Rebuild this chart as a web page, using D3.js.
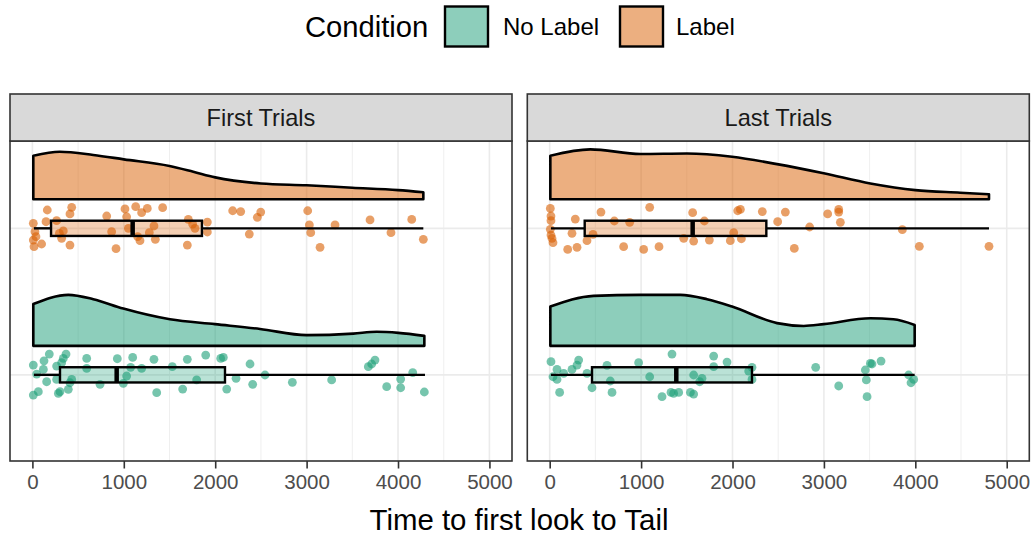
<!DOCTYPE html>
<html>
<head>
<meta charset="utf-8">
<script src="https://cdn.jsdelivr.net/npm/d3@7"></script>
<style>
  html, body { margin: 0; padding: 0; background: #fff; }
  svg { display: block; font-family: "Liberation Sans", Arial, Helvetica, sans-serif; }
</style>
</head>
<body>
<svg id="chart" width="1035" height="536"></svg>
<script>
// ---- data ----------------------------------------------------------------
const facets = ["First Trials", "Last Trials"];
const conditions = ["No Label", "Label"];
const conditionColors = ["#1B9E77", "#D95F02"];
const xTicks = [0, 1000, 2000, 3000, 4000, 5000];
const xMinorTicks = [500, 1500, 2500, 3500, 4500];

// Observations: [time (ms), vertical jitter]
const firstLabel = [
  [163,0.125],[430,0.143],[411,0.098],[149,0.045],[10,0.034],[28,-0.023],[10,-0.080],[18,-0.125],
  [101,-0.107],[39,-0.057],[265,0.052],[338,-0.018],[320,-0.068],[295,-0.034],[411,-0.114],
  [813,0.084],[867,-0.023],[915,-0.139],[1013,0.132],[1031,0.079],[1130,0.148],[1195,0.107],
  [1257,0.136],[1425,0.141],[1050,0],[1152,-0.057],[1177,-0.084],[1330,0.016],[1279,-0.030],
  [1345,-0.075],[1706,0.061],[1753,0.029],[1779,0],[1914,0.043],[1914,-0.025],[1695,-0.114],
  [2191,0.120],[2279,0.114],[2498,0.111],[2461,0.075],[2373,-0.039],[3012,0.120],[3030,0.023],
  [3045,-0.030],[3147,-0.130],[3311,0.023],[3694,0.057],[3923,-0.030],[4150,0.061],[4277,-0.075]
];
const firstNoLabel = [
  [185,0.142],[127,0.096],[10,0.067],[120,0.037],[47,0.005],[156,-0.047],[265,-0.031],[65,-0.115],
  [10,-0.138],[284,-0.127],[302,-0.115],[393,-0.099],[368,0.142],[338,0.112],[265,0.060],[320,0.083],
  [430,-0.031],[411,-0.054],[594,0.112],[594,0.044],[740,-0.065],[929,0.110],[1097,0.119],[1075,0.051],
  [1195,0.044],[1031,-0.008],[995,-0.058],[1330,0.106],[1360,-0.122],[1531,0.056],[1644,-0.097],
  [1695,0.106],[1797,-0.035],[1896,0.135],[2060,0.112],[2089,0.119],[2126,-0.097],[2228,-0.024],
  [2381,0.074],[2410,-0.065],[2545,-0.001],[2844,-0.051],[3274,-0.035],[3675,0.056],[3712,0.074],
  [3748,0.101],[3876,-0.081],[4029,-0.029],[4029,-0.088],[4161,0.015],[4288,-0.117]
];
const lastLabel = [
  [7,0.136],[14,0.084],[14,0.052],[7,-0.007],[14,-0.046],[25,-0.068],[36,-0.098],[280,0.063],
  [244,-0.034],[197,-0.144],[299,-0.130],[408,-0.084],[474,-0.041],[561,0.111],[707,0.050],
  [875,0.041],[809,-0.125],[1028,-0.144],[1196,-0.125],[1094,0.143],[1466,-0.068],[1564,0.107],
  [1575,-0.087],[1692,0.050],[1747,-0.080],[1976,-0.084],[2013,-0.030],[2097,-0.071],[2057,0.120],
  [2086,0.129],[2326,0.114],[2578,0.111],[2494,0.045],[2676,-0.137],[2844,0.009],[3041,0.098],
  [3162,0.129],[3162,0.111],[3180,0.041],[3858,-0.009],[4044,-0.123],[4806,-0.123]
];
const lastNoLabel = [
  [14,0.090],[80,0.037],[36,-0.013],[80,-0.031],[153,0.010],[109,-0.120],[244,0.037],[317,0.101],
  [299,0.067],[408,0.010],[463,-0.088],[627,0.065],[663,-0.042],[682,-0.120],[973,0.083],
  [1094,-0.013],[1229,-0.149],[1338,0.142],[1327,-0.120],[1411,-0.120],[1356,-0.127],[1575,-0.001],
  [1539,-0.120],[1575,-0.131],[1666,-0.024],[1641,-0.047],[1794,0.128],[1794,0.056],[1940,0.087],
  [2177,0.026],[2213,0.051],[2213,-0.031],[2910,0.051],[3162,-0.076],[3453,0.033],[3508,0.078],
  [3526,0.074],[3625,0.094],[3464,-0.035],[3472,-0.149],[3927,-0.001],[3982,-0.031],[3953,-0.054]
];

// Half-violin outlines: [time (ms), relative density]
const firstLabelDensity = [
  [10,0.855],[300,0.933],[666,0.87],[1000,0.784],[1500,0.653],[1760,0.54],[2000,0.43],
  [2500,0.31],[3000,0.275],[3500,0.227],[4000,0.18],[4277,0.137]
];
const firstNoLabelDensity = [
  [10,0.82],[393,1.0],[666,0.915],[995,0.73],[1505,0.52],[1997,0.425],[2490,0.33],
  [3000,0.21],[3511,0.24],[3766,0.275],[4003,0.255],[4288,0.196]
];
const lastLabelDensity = [
  [7,0.855],[444,0.98],[991,0.89],[1502,0.9],[1995,0.835],[2487,0.69],[2998,0.51],
  [3508,0.31],[4000,0.18],[4492,0.13],[4806,0.1]
];
const lastNoLabelDensity = [
  [7,0.77],[481,0.98],[991,1.0],[1429,1.0],[1721,0.915],[1995,0.77],[2487,0.445],
  [2779,0.39],[2998,0.425],[3508,0.54],[3760,0.52],[3993,0.41]
];

// Box summaries: [lower whisker, Q1, median, Q3, upper whisker]
const firstLabelBox   = [17, 204, 1097, 1855, 4277];
const firstNoLabelBox = [17, 302, 922, 2107, 4295];
const lastLabelBox    = [14, 383, 1564, 2370, 4806];
const lastNoLabelBox  = [14, 463, 1385, 2213, 3993];

const panelData = [
  { facet: facets[0], groups: [
    { cond: 0, pts: firstNoLabel, dens: firstNoLabelDensity, box: firstNoLabelBox },
    { cond: 1, pts: firstLabel,   dens: firstLabelDensity,   box: firstLabelBox } ] },
  { facet: facets[1], groups: [
    { cond: 0, pts: lastNoLabel, dens: lastNoLabelDensity, box: lastNoLabelBox },
    { cond: 1, pts: lastLabel,   dens: lastLabelDensity,   box: lastLabelBox } ] }
];

// ---- layout --------------------------------------------------------------
const svg = d3.select("#chart");
const panelLeft = 10, panelW = 502, panelGap = 15.3;
const stripTop = 94, panelTop = 141, panelBottom = 461;

const fillAlpha = (c, a) => { const k = d3.color(c); k.opacity = a; return k + ""; };

const yScale = d3.scaleLinear().domain([0.412, 2.596]).range([panelBottom, panelTop]);
const violinOffset = 0.198;   // baseline of half violin above the category
const violinHeight = 0.348;   // height of the tallest density
const boxHalf = 0.052;
const grid = "#EBEBEB", frame = "#333333";

panelData.forEach((pd, pi) => {
  const x0 = panelLeft + pi * (panelW + panelGap);
  const x = d3.scaleLinear().domain([-245, 5247]).range([x0, x0 + panelW]);
  const g = svg.append("g");

  // panel background and grid
  g.append("rect").attr("x", x0).attr("y", panelTop).attr("width", panelW)
    .attr("height", panelBottom - panelTop).attr("fill", "#fff");
  g.selectAll(".minor").data(xMinorTicks).join("line")
    .attr("x1", d => x(d)).attr("x2", d => x(d))
    .attr("y1", panelTop).attr("y2", panelBottom)
    .attr("stroke", grid).attr("stroke-width", 0.8);
  g.selectAll(".major").data(xTicks).join("line")
    .attr("x1", d => x(d)).attr("x2", d => x(d))
    .attr("y1", panelTop).attr("y2", panelBottom)
    .attr("stroke", grid).attr("stroke-width", 1.6);
  g.selectAll(".hgrid").data([1, 2]).join("line")
    .attr("x1", x0).attr("x2", x0 + panelW)
    .attr("y1", d => yScale(d)).attr("y2", d => yScale(d))
    .attr("stroke", grid).attr("stroke-width", 1.6);

  pd.groups.forEach(gr => {
    const pos = gr.cond + 1;
    const col = conditionColors[gr.cond];

    // half violin
    const base = yScale(pos + violinOffset);
    const area = d3.area()
      .x(d => x(d[0]))
      .y0(base)
      .y1(d => yScale(pos + violinOffset + d[1] * violinHeight))
      .curve(d3.curveMonotoneX);
    g.append("path").datum(gr.dens).attr("d", area)
      .attr("fill", fillAlpha(col, 0.5)).attr("stroke", "#000")
      .attr("stroke-width", 2.6).attr("stroke-linejoin", "round");

    // jittered observations
    g.append("g").selectAll("circle").data(gr.pts).join("circle")
      .attr("cx", d => x(d[0])).attr("cy", d => yScale(pos + d[1]))
      .attr("r", 4.4).attr("fill", col).attr("fill-opacity", 0.6);

    // box and whiskers
    const b = gr.box, yc = yScale(pos);
    g.append("line").attr("x1", x(b[0])).attr("x2", x(b[1])).attr("y1", yc).attr("y2", yc)
      .attr("stroke", "#000").attr("stroke-width", 2.4);
    g.append("line").attr("x1", x(b[3])).attr("x2", x(b[4])).attr("y1", yc).attr("y2", yc)
      .attr("stroke", "#000").attr("stroke-width", 2.4);
    g.append("rect").attr("x", x(b[1])).attr("y", yScale(pos + boxHalf))
      .attr("width", x(b[3]) - x(b[1])).attr("height", yScale(pos - boxHalf) - yScale(pos + boxHalf))
      .attr("fill", fillAlpha(col, 0.3)).attr("stroke", "#000").attr("stroke-width", 2.4);
    g.append("line").attr("x1", x(b[2])).attr("x2", x(b[2]))
      .attr("y1", yScale(pos + boxHalf)).attr("y2", yScale(pos - boxHalf))
      .attr("stroke", "#000").attr("stroke-width", 4.5);
  });

  // panel frame
  g.append("rect").attr("x", x0).attr("y", panelTop).attr("width", panelW)
    .attr("height", panelBottom - panelTop).attr("fill", "none")
    .attr("stroke", frame).attr("stroke-width", 1.6);

  // strip
  g.append("rect").attr("x", x0).attr("y", stripTop).attr("width", panelW)
    .attr("height", panelTop - stripTop).attr("fill", "#D9D9D9")
    .attr("stroke", frame).attr("stroke-width", 1.6);
  g.append("text").attr("x", x0 + panelW / 2).attr("y", 126)
    .attr("text-anchor", "middle").attr("font-size", 23.6).attr("fill", "#1A1A1A")
    .text(pd.facet);

  // x axis
  const axis = d3.axisBottom(x).tickValues(xTicks).tickSize(7.5).tickPadding(6).tickFormat(d3.format("d"));
  const ax = g.append("g").attr("transform", `translate(0,${panelBottom})`).call(axis);
  ax.select(".domain").remove();
  ax.selectAll(".tick line").attr("stroke", frame).attr("stroke-width", 1.6);
  ax.selectAll(".tick text").attr("font-size", 20.5).attr("fill", "#4D4D4D")
    .attr("font-family", "Liberation Sans, Arial, sans-serif");
});

// axis title
svg.append("text").attr("x", 519).attr("y", 530).attr("text-anchor", "middle")
  .attr("font-size", 29.4).attr("fill", "#000").text("Time to first look to Tail");

// legend
const legend = svg.append("g");
legend.append("text").attr("x", 305).attr("y", 37).attr("font-size", 29.2).attr("fill", "#000").text("Condition");
const keyX = [445, 620], labelX = [503, 676];
conditions.forEach((c, i) => {
  legend.append("rect").attr("x", keyX[i]).attr("y", 6.5).attr("width", 43).attr("height", 40)
    .attr("fill", fillAlpha(conditionColors[i], 0.5)).attr("stroke", "#000").attr("stroke-width", 2.4);
  legend.append("text").attr("x", labelX[i]).attr("y", 35).attr("font-size", 24).attr("fill", "#000").text(c);
});
</script>
</body>
</html>
